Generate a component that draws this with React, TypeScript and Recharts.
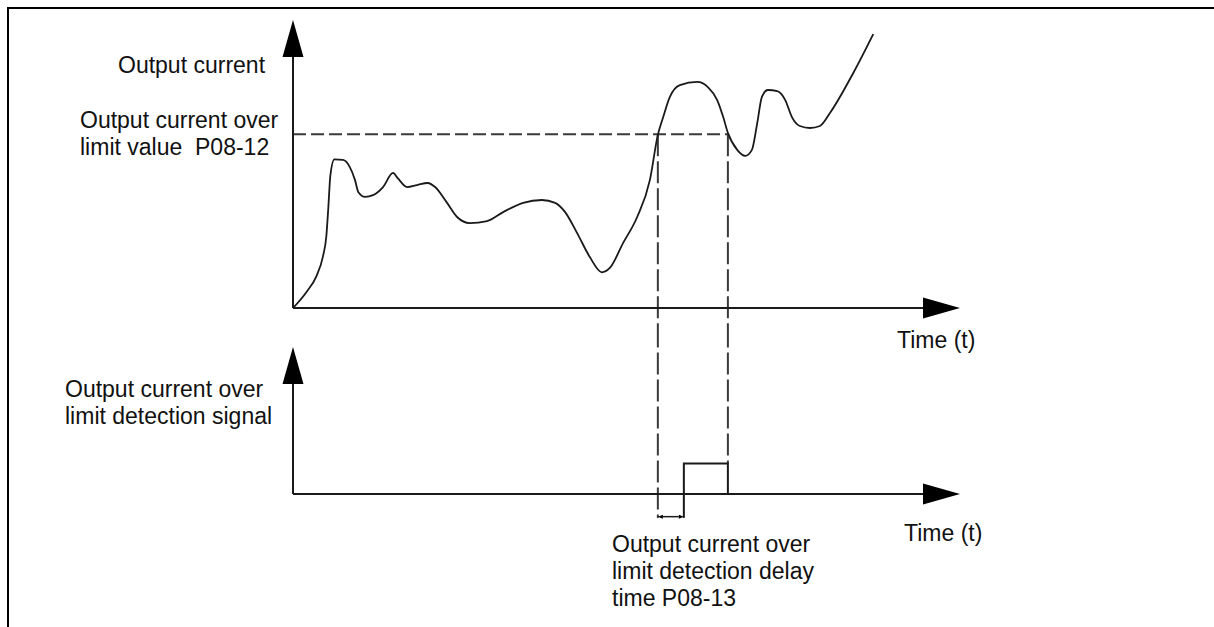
import React from "react";
import { Line, LineChart, ReferenceLine, XAxis, YAxis } from "recharts";

// time axis 0..100, current 0..100
const time = [
  0, 2.0, 3.5, 4.5, 5.0, 5.3, 5.6, 6.2, 7.5, 8.5, 9.3, 9.8, 10.8, 12.0, 13.5,
  15.0, 15.7, 17.1, 18.6, 20.2, 21.3, 23.1, 24.6, 26.5, 29.1, 31.5, 34.5, 37.3,
  39.3, 40.8, 42.6, 44.5, 46.3, 47.5, 49.5, 51.6, 53.5, 54.7, 55.5, 56.5, 58.0,
  60.6, 62.2, 63.6, 64.5, 65.2, 66.6, 67.8, 68.8, 69.6, 70.3, 71.2, 72.6, 73.8,
  74.8, 76.0, 77.5, 79.0, 80.5, 84.0, 87.0,
];
const current = [
  0, 5.5, 11.0, 18.0, 25.0, 35.0, 46.0, 51.6, 51.4, 49.0, 44.4, 40.2, 38.6,
  39.2, 42.0, 46.9, 45.1, 42.0, 42.7, 43.4, 42.0, 36.5, 31.6, 29.5, 30.2, 33.3,
  36.5, 37.5, 36.5, 33.3, 26.0, 17.7, 12.4, 13.9, 22.6, 31.6, 44.4, 60.1, 66.3,
  73.3, 77.4, 78.5, 76.7, 72.2, 66.3, 60.8, 54.9, 52.8, 54.9, 64.2, 73.3, 75.7,
  75.3, 72.2, 66.3, 63.2, 62.5, 63.2, 67.7, 81.6, 95.1,
];

const limitValue = 60.3; // P08-12
const crossUp = 54.7;
const crossDown = 65.2;
const delayTime = 3.9; // P08-13

const signalTime = [0, crossUp + delayTime, crossDown];
const signalValue = [0, 1, 0];

const currentData = time.map((t, i) => ({ t, v: current[i] }));
const signalData = signalTime.map((t, i) => ({ t, s: signalValue[i] }));

const INK = "#1a1a1a";
const DASH = "#3a3a3a";

const arrow = (len: number, half: number, both = false, width = 2) =>
  (props: any) => {
    const { x1, y1, x2, y2 } = props;
    const dx = x2 - x1;
    const dy = y2 - y1;
    const d = Math.hypot(dx, dy) || 1;
    const ux = dx / d;
    const uy = dy / d;
    const px = -uy * half;
    const py = ux * half;
    const bx = x2 - ux * len;
    const by = y2 - uy * len;
    const sx = both ? x1 + ux * len : x1;
    const sy = both ? y1 + uy * len : y1;
    return (
      <g>
        <line x1={sx} y1={sy} x2={bx} y2={by} stroke={INK} strokeWidth={width} />
        <polygon
          points={`${x2},${y2} ${bx + px},${by + py} ${bx - px},${by - py}`}
          fill="#000"
        />
        {both && (
          <polygon
            points={`${x1},${y1} ${sx + px},${sy + py} ${sx - px},${sy - py}`}
            fill="#000"
          />
        )}
      </g>
    );
  };

const axisArrow = arrow(37, 10.5);
const smallArrow = arrow(5, 2, true, 1.5);

const text: React.CSSProperties = {
  position: "absolute",
  fontFamily: "'Liberation Sans', Arial, sans-serif",
  fontSize: 23,
  lineHeight: "27px",
  color: "#111",
  whiteSpace: "pre",
};

const App = () => {
  return (
    <div
      style={{
        position: "absolute",
        left: 0,
        top: 0,
        width: 1214,
        height: 627,
        background: "#fff",
        overflow: "hidden",
      }}
    >
      <div
        style={{
          position: "absolute",
          left: 7,
          top: 7,
          width: 1214,
          height: 627,
          borderTop: "2px solid #000",
          borderLeft: "2px solid #000",
        }}
      />

      <div style={{ position: "absolute", left: 0, top: 0 }}>
        <LineChart
          width={1214}
          height={330}
          data={currentData}
          margin={{ top: 20, right: 254, bottom: 22, left: 293 }}
        >
          <XAxis dataKey="t" type="number" domain={[0, 100]} hide />
          <YAxis domain={[0, 100]} hide />
          <ReferenceLine
            segment={[{ x: 0, y: limitValue }, { x: crossDown, y: limitValue }]}
            stroke={DASH}
            strokeWidth={2}
            strokeDasharray="13 5"
            ifOverflow="visible"
          />
          <ReferenceLine
            segment={[{ x: crossUp, y: limitValue }, { x: crossUp, y: -15 }]}
            stroke={DASH}
            strokeWidth={2}
            strokeDasharray="22 5"
            ifOverflow="visible"
          />
          <ReferenceLine
            segment={[{ x: crossDown, y: limitValue }, { x: crossDown, y: -15 }]}
            stroke={DASH}
            strokeWidth={2}
            strokeDasharray="22 5"
            ifOverflow="visible"
          />
          <ReferenceLine
            segment={[{ x: 0, y: 0 }, { x: 0, y: 100 }]}
            shape={axisArrow}
            ifOverflow="visible"
          />
          <ReferenceLine
            segment={[{ x: 0, y: 0 }, { x: 100, y: 0 }]}
            shape={axisArrow}
            ifOverflow="visible"
          />
          <Line
            type="monotone"
            dataKey="v"
            stroke={INK}
            strokeWidth={1.8}
            dot={false}
            isAnimationActive={false}
          />
        </LineChart>
      </div>

      <div style={{ position: "absolute", left: 0, top: 330 }}>
        <LineChart
          width={1214}
          height={297}
          data={signalData}
          margin={{ top: 17, right: 254, bottom: 133, left: 293 }}
        >
          <XAxis dataKey="t" type="number" domain={[0, 100]} hide />
          <YAxis domain={[0, 4.8]} hide />
          <ReferenceLine
            segment={[{ x: crossUp, y: 5.5 }, { x: crossUp, y: -0.78 }]}
            stroke={DASH}
            strokeWidth={2}
            strokeDasharray="22 5"
            ifOverflow="visible"
          />
          <ReferenceLine
            segment={[{ x: crossDown, y: 5.5 }, { x: crossDown, y: 1 }]}
            stroke={DASH}
            strokeWidth={2}
            strokeDasharray="22 5"
            ifOverflow="visible"
          />
          <ReferenceLine
            segment={[
              { x: crossUp + delayTime, y: 0 },
              { x: crossUp + delayTime, y: -0.78 },
            ]}
            stroke={INK}
            strokeWidth={2}
            ifOverflow="visible"
          />
          <ReferenceLine
            segment={[
              { x: crossUp, y: -0.74 },
              { x: crossUp + delayTime, y: -0.74 },
            ]}
            shape={smallArrow}
            ifOverflow="visible"
          />
          <ReferenceLine
            segment={[{ x: 0, y: 0 }, { x: 0, y: 4.8 }]}
            shape={axisArrow}
            ifOverflow="visible"
          />
          <ReferenceLine
            segment={[{ x: 0, y: 0 }, { x: 100, y: 0 }]}
            shape={axisArrow}
            ifOverflow="visible"
          />
          <Line
            type="stepAfter"
            dataKey="s"
            stroke={INK}
            strokeWidth={2}
            dot={false}
            isAnimationActive={false}
          />
        </LineChart>
      </div>

      <div style={{ ...text, left: 118, top: 51.5 }}>Output current</div>
      <div style={{ ...text, left: 80, top: 106.5 }}>
        {"Output current over\nlimit value  P08-12"}
      </div>
      <div style={{ ...text, left: 897, top: 326.5 }}>Time (t)</div>
      <div style={{ ...text, left: 65, top: 375.5 }}>
        {"Output current over\nlimit detection signal"}
      </div>
      <div style={{ ...text, left: 904, top: 519.5 }}>Time (t)</div>
      <div style={{ ...text, left: 612, top: 530.5 }}>
        {"Output current over\nlimit detection delay\ntime P08-13"}
      </div>
    </div>
  );
};

export default App;
